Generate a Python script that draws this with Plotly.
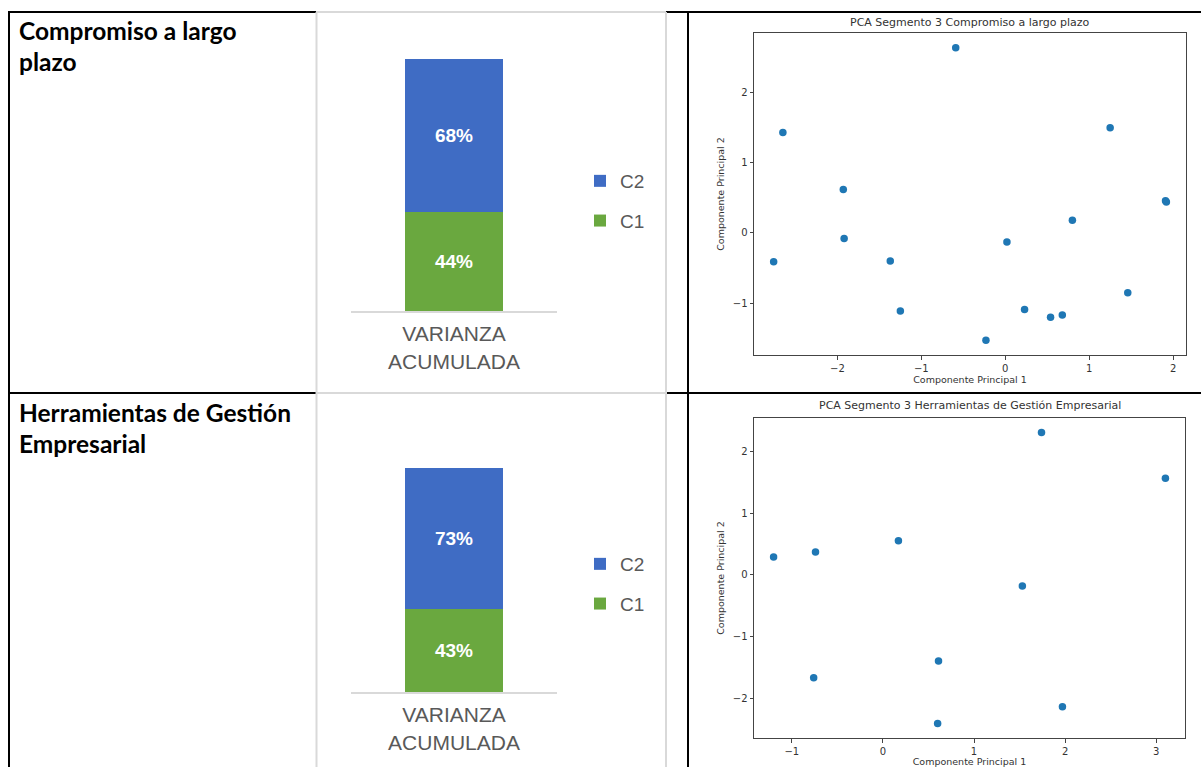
import plotly.graph_objects as go

W, H = 1201, 767

# ---------------- data ----------------
row_title_row1 = ["Compromiso a largo", "plazo"]
row_title_row2 = ["Herramientas de Gestión", "Empresarial"]
bar_category = ["VARIANZA<br>ACUMULADA"]
components = ["C1", "C2"]
varianza_row1 = [44, 68]
varianza_row2 = [43, 73]
scatter_title_row1 = "PCA Segmento 3 Compromiso a largo plazo"
scatter_title_row2 = "PCA Segmento 3 Herramientas de Gestión Empresarial"
axis_x_title = "Componente Principal 1"
axis_y_title = "Componente Principal 2"
pc1_row1 = [-0.59, -2.65, -1.93, -1.92, -2.76, -1.37, -1.25, -0.23, 0.02, 0.23,
            0.54, 0.68, 0.80, 1.25, 1.46, 1.91, 1.92]
pc2_row1 = [2.64, 1.43, 0.62, -0.08, -0.41, -0.40, -1.11, -1.53, -0.13, -1.09,
            -1.20, -1.17, 0.18, 1.50, -0.85, 0.46, 0.44]
pc1_row2 = [1.74, 3.10, 0.17, -1.20, -0.74, 1.53, 0.61, -0.76, 1.97, 0.60]
pc2_row2 = [2.30, 1.56, 0.55, 0.29, 0.37, -0.18, -1.39, -1.66, -2.13, -2.40]

# ---------------- style ----------------
GREEN = "#6aa83f"
BLUE = "#3f6cc4"
GRAY_TXT = "#595959"
DARK = "#333333"
SCAT = "#1f77b4"


def fx(px):
    return px / W


def fy(py):
    return 1 - py / H


fig = go.Figure()

bar_colors = [GREEN, BLUE]
ranks = [2, 1]
for r, (vals, xa, ya, lg) in enumerate([(varianza_row1, "x", "y", "legend"),
                                         (varianza_row2, "x2", "y2", "legend2")]):
    for comp, v, col, rk in zip(components, vals, bar_colors, ranks):
        fig.add_trace(go.Bar(
            x=bar_category, y=[v], name=comp, marker=dict(color=col, line=dict(width=0)),
            width=0.476, texttemplate="%{y:.0f}%", textposition="inside",
            insidetextanchor="middle",
            textfont=dict(family="Liberation Sans", size=19, color="white", weight="bold"),
            xaxis=xa, yaxis=ya, legend=lg, legendgroup=f"r{r}{comp}", legendrank=rk,
            hoverinfo="skip"))


def mpl_range(vals):
    lo, hi = min(vals), max(vals)
    pad = 0.05 * (hi - lo)
    return [lo - pad, hi + pad]


for xs, ys, xa, ya in [(pc1_row1, pc2_row1, "x3", "y3"), (pc1_row2, pc2_row2, "x4", "y4")]:
    fig.add_trace(go.Scatter(x=xs, y=ys, mode="markers",
                             marker=dict(size=7.5, color=SCAT, line=dict(width=0)),
                             xaxis=xa, yaxis=ya, showlegend=False, hoverinfo="skip"))

bar_x_common = dict(type="category", range=[-0.5, 0.5], showline=True, linecolor="#d9d9d9",
                    linewidth=2, showgrid=False, zeroline=False, ticks="",
                    ticklabelstandoff=3,
                    tickfont=dict(family="Liberation Sans", size=21, color=GRAY_TXT),
                    fixedrange=True)
bar_y_common = dict(range=[0, 120], visible=False, showgrid=False, zeroline=False, fixedrange=True)

sc_tick = dict(family="DejaVu Sans", size=10, color=DARK)
sc_title = dict(family="DejaVu Sans", size=9.5, color=DARK)


def sc_x(dom, rng, anchor):
    return dict(domain=dom, range=rng, anchor=anchor, showline=True, mirror=True,
                linecolor="#444", linewidth=1, ticks="outside", ticklen=3.5,
                tickcolor="#444", tickwidth=1, showgrid=False, zeroline=False,
                dtick=1, tickfont=sc_tick,
                title=dict(text=axis_x_title, font=sc_title, standoff=3))


def sc_y(dom, rng, anchor):
    return dict(domain=dom, range=rng, anchor=anchor, showline=True, mirror=True,
                linecolor="#444", linewidth=1, ticks="outside", ticklen=3.5,
                tickcolor="#444", tickwidth=1, showgrid=False, zeroline=False,
                dtick=1, tickfont=sc_tick,
                title=dict(text=axis_y_title, font=sc_title, standoff=6))


legend_common = dict(orientation="v", xanchor="left", yanchor="top", bgcolor="rgba(0,0,0,0)",
                     font=dict(family="Liberation Sans", size=19, color=GRAY_TXT),
                     traceorder="grouped", tracegroupgap=12, itemclick=False,
                     itemdoubleclick=False)

fig.update_layout(
    width=W, height=H, margin=dict(l=0, r=0, t=0, b=0),
    paper_bgcolor="white", plot_bgcolor="white",
    barmode="stack", bargap=0, showlegend=True,
    xaxis=dict(domain=[fx(351), fx(557)], anchor="y", **bar_x_common),
    yaxis=dict(domain=[fy(311), fy(41)], anchor="x", **bar_y_common),
    xaxis2=dict(domain=[fx(351), fx(557)], anchor="y2", **bar_x_common),
    yaxis2=dict(domain=[fy(692), fy(460)], anchor="x2", **bar_y_common),
    xaxis3=sc_x([fx(754), fx(1186)], mpl_range(pc1_row1), "y3"),
    yaxis3=sc_y([fy(355), fy(33)], mpl_range(pc2_row1), "x3"),
    xaxis4=sc_x([fx(754), fx(1185)], mpl_range(pc1_row2), "y4"),
    yaxis4=sc_y([fy(738), fy(418)], mpl_range(pc2_row2), "x4"),
    legend=dict(x=fx(580), y=fy(162), **legend_common),
    legend2=dict(x=fx(580), y=fy(545), **legend_common),
)

# table borders
black = dict(color="black", width=2)
light = dict(color="#d9d9d9", width=2)
shapes = []
for y in (12, 393):
    shapes.append(dict(type="line", xref="paper", yref="paper", x0=fx(8), x1=fx(316), y0=fy(y), y1=fy(y), line=black))
    shapes.append(dict(type="line", xref="paper", yref="paper", x0=fx(316), x1=fx(666), y0=fy(y), y1=fy(y), line=light))
    shapes.append(dict(type="line", xref="paper", yref="paper", x0=fx(666), x1=fx(1201), y0=fy(y), y1=fy(y), line=black))
for x in (9, 688):
    shapes.append(dict(type="line", xref="paper", yref="paper", x0=fx(x), x1=fx(x), y0=fy(11), y1=0, line=black))
for x in (316.5, 666):
    shapes.append(dict(type="line", xref="paper", yref="paper", x0=fx(x), x1=fx(x), y0=fy(12), y1=0, line=light))
fig.update_layout(shapes=shapes)

ann = []
title_font = dict(family="Lato", size=24.5, color="black", weight="bold")
for lines, ys in [(row_title_row1, (30, 62)), (row_title_row2, (412, 443))]:
    for t, yy in zip(lines, ys):
        ann.append(dict(text=t, x=fx(17), y=fy(yy), xref="paper", yref="paper",
                        xanchor="left", yanchor="middle", showarrow=False, font=title_font))
for t, yy in [(scatter_title_row1, 23), (scatter_title_row2, 406)]:
    ann.append(dict(text=t, x=fx(970), y=fy(yy), xref="paper", yref="paper",
                    xanchor="center", yanchor="middle", showarrow=False,
                    font=dict(family="DejaVu Sans", size=11, color=DARK)))
fig.update_layout(annotations=ann)

fig.write_html("out.html", config={"displayModeBar": False},
               post_script="document.body.style.margin='0';document.body.style.overflow='hidden';")
